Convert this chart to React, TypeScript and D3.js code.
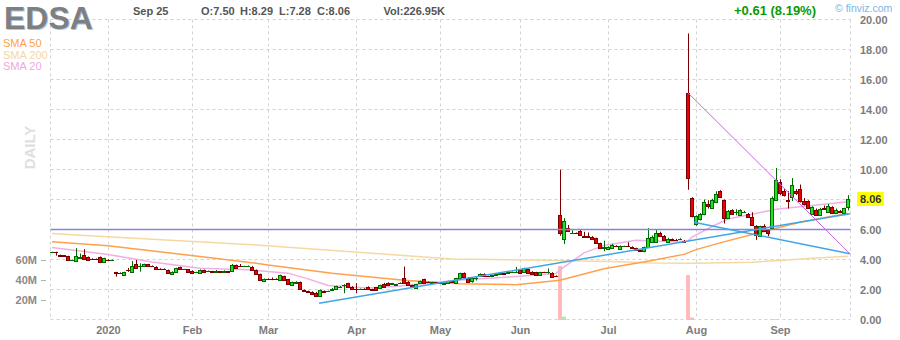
import React from 'react';
import * as d3 from 'd3';

// ---------- data ----------
const ticker = 'EDSA';
const headerDate = 'Sep 25';
const headerO = 'O:7.50';
const headerH = 'H:8.29';
const headerL = 'L:7.28';
const headerC = 'C:8.06';
const headerVol = 'Vol:226.95K';
const changeText = '+0.61 (8.19%)';
const lastPrice = 8.06;
const lastPriceText = '8.06';

const monthLabels = ['2020', 'Feb', 'Mar', 'Apr', 'May', 'Jun', 'Jul', 'Aug', 'Sep'];
const monthStartIdx = [14, 35, 54, 76, 97, 117, 139, 161, 182];
const priceTicks = [0, 2, 4, 6, 8, 10, 12, 14, 16, 18, 20];
const volumeTicks = [20, 40, 60];
const volumeTickLabels = ['20M', '40M', '60M'];

// daily candles Dec 11 2019 .. Sep 25 2020 : [open, high, low, close]
const candlesDec: number[][] = [
  [4.48, 4.52, 4.45, 4.50], [4.50, 4.52, 4.26, 4.49], [4.30, 4.32, 4.22, 4.26], [4.27, 4.30, 4.22, 4.25],
  [4.22, 4.25, 3.93, 3.95], [3.96, 4.00, 3.92, 3.97], [3.88, 4.76, 3.84, 4.22], [4.12, 4.40, 4.10, 4.15],
  [4.31, 4.69, 4.02, 4.04], [4.17, 4.20, 3.90, 3.97], [4.05, 4.08, 4.00, 4.04], [4.05, 4.07, 4.00, 4.03],
  [4.15, 4.20, 3.84, 3.86], [3.86, 4.12, 3.84, 4.11],
];
const candlesJan: number[][] = [
  [4.00, 4.02, 3.95, 3.98], [3.95, 4.00, 3.90, 3.97], [3.15, 3.18, 2.86, 3.13], [3.10, 3.14, 3.05, 3.09],
  [2.98, 3.18, 2.95, 3.15], [3.32, 3.44, 3.17, 3.28], [3.19, 3.90, 3.15, 3.57], [3.71, 3.97, 3.40, 3.42],
  [3.58, 3.75, 3.19, 3.60], [3.57, 3.72, 3.55, 3.69], [3.69, 3.71, 3.55, 3.57], [3.57, 3.60, 3.52, 3.55],
  [3.53, 3.55, 3.35, 3.37], [3.40, 3.42, 3.36, 3.39], [3.39, 3.41, 3.35, 3.38], [3.31, 3.33, 3.10, 3.13],
  [3.04, 3.21, 3.02, 3.19], [3.15, 3.45, 3.13, 3.44], [3.49, 3.52, 3.33, 3.35], [3.35, 3.38, 3.32, 3.35],
  [3.35, 3.36, 3.13, 3.15],
];
const candlesFeb: number[][] = [
  [3.26, 3.28, 3.07, 3.09], [3.14, 3.18, 3.10, 3.15], [3.09, 3.34, 3.07, 3.31], [3.31, 3.33, 3.13, 3.15],
  [3.24, 3.27, 3.20, 3.24], [3.21, 3.24, 3.17, 3.20], [3.20, 3.30, 3.18, 3.21], [3.21, 3.23, 3.17, 3.20],
  [3.19, 3.28, 3.17, 3.21], [3.21, 3.23, 3.18, 3.20], [3.24, 3.70, 3.22, 3.64], [3.64, 3.66, 3.40, 3.42],
  [3.58, 3.70, 3.50, 3.55], [3.54, 3.58, 3.50, 3.56], [3.55, 3.60, 3.52, 3.56], [3.53, 3.56, 3.29, 3.31],
  [3.31, 3.33, 3.02, 3.04], [3.04, 3.06, 2.62, 2.64], [2.55, 2.73, 2.50, 2.71],
];
const candlesMar: number[][] = [
  [2.70, 2.74, 2.65, 2.68], [2.71, 2.80, 2.62, 2.70], [2.72, 2.75, 2.66, 2.69], [2.64, 2.99, 2.62, 2.97],
  [2.90, 2.92, 2.62, 2.64], [2.69, 2.71, 2.33, 2.35], [2.30, 2.52, 2.28, 2.48], [2.45, 2.55, 2.40, 2.47],
  [2.50, 2.53, 2.00, 2.02], [1.97, 2.00, 1.85, 1.90], [1.90, 1.92, 1.82, 1.86], [1.86, 1.88, 1.66, 1.68],
  [1.80, 1.84, 1.58, 1.60], [1.60, 2.00, 1.57, 1.95], [1.92, 1.94, 1.80, 1.86], [1.88, 1.92, 1.85, 1.90],
  [1.95, 2.10, 1.93, 2.05], [2.05, 2.25, 2.03, 2.22], [2.18, 2.24, 2.12, 2.20], [2.28, 2.36, 1.75, 2.30],
  [2.42, 2.45, 2.17, 2.19], [2.20, 2.22, 2.03, 2.05],
];
const candlesApr: number[][] = [
  [2.05, 2.42, 1.75, 2.02], [2.04, 2.07, 2.00, 2.05], [2.05, 2.08, 2.02, 2.04], [2.19, 2.21, 2.00, 2.02],
  [2.02, 2.05, 1.98, 2.00], [2.15, 2.17, 1.95, 1.97], [2.08, 2.32, 2.06, 2.30], [2.40, 2.44, 2.17, 2.19],
  [2.46, 2.48, 2.28, 2.30], [2.40, 2.44, 2.37, 2.42], [2.30, 2.38, 2.28, 2.36], [2.42, 2.48, 2.38, 2.44],
  [2.75, 3.53, 2.44, 2.46], [2.53, 2.56, 2.29, 2.31], [2.28, 2.32, 2.18, 2.22], [2.08, 2.37, 2.06, 2.35],
  [2.42, 2.60, 2.40, 2.57], [2.69, 2.72, 2.44, 2.46], [2.50, 2.54, 2.44, 2.48], [2.46, 2.52, 2.42, 2.49],
  [2.47, 2.50, 2.40, 2.43],
];
const candlesMay: number[][] = [
  [2.45, 2.48, 2.38, 2.42], [2.40, 2.47, 2.37, 2.44], [2.42, 2.58, 2.40, 2.56], [2.56, 2.62, 2.48, 2.52],
  [2.42, 2.78, 2.40, 2.75], [2.75, 3.12, 2.72, 3.08], [3.10, 3.14, 2.84, 2.86], [2.80, 2.83, 2.45, 2.50],
  [2.55, 2.78, 2.45, 2.75], [2.74, 2.86, 2.60, 2.76], [2.88, 3.08, 2.86, 3.05], [3.05, 3.08, 2.88, 2.90],
  [2.90, 2.92, 2.86, 2.88], [2.92, 2.98, 2.88, 2.95], [2.98, 3.08, 2.96, 3.06], [3.04, 3.14, 3.02, 3.12],
  [3.08, 3.12, 3.02, 3.05], [3.12, 3.18, 3.10, 3.15], [3.15, 3.20, 3.12, 3.16], [3.18, 3.50, 3.12, 3.20],
];
const candlesJun: number[][] = [
  [3.31, 3.34, 3.07, 3.09], [3.20, 3.46, 3.18, 3.42], [3.35, 3.38, 3.10, 3.13], [3.20, 3.22, 3.03, 3.05],
  [3.15, 3.18, 2.96, 2.98], [3.00, 3.18, 2.98, 3.15], [3.15, 3.18, 3.12, 3.14], [3.16, 3.40, 3.05, 3.18],
  [3.13, 3.15, 2.80, 2.82], [2.90, 2.94, 2.84, 2.87], [6.98, 9.99, 5.58, 5.76], [5.36, 6.76, 5.03, 6.58],
  [6.09, 6.30, 5.85, 5.87], [5.74, 5.95, 5.70, 5.78], [5.78, 5.80, 5.72, 5.75], [5.87, 6.00, 5.60, 5.64],
  [5.55, 5.85, 5.45, 5.50], [5.55, 5.80, 5.50, 5.53], [5.53, 5.56, 5.36, 5.38], [5.42, 5.45, 5.11, 5.13],
  [5.09, 5.12, 4.78, 4.80], [4.80, 5.25, 4.55, 4.82],
];
const candlesJul: number[][] = [
  [4.70, 4.88, 4.65, 4.85], [4.75, 5.05, 4.70, 4.98], [4.92, 4.95, 4.86, 4.90], [4.68, 4.93, 4.65, 4.90],
  [4.88, 4.92, 4.84, 4.88], [4.92, 5.15, 4.85, 4.90], [4.85, 4.88, 4.78, 4.80], [4.75, 4.78, 4.60, 4.63],
  [4.65, 4.68, 4.52, 4.55], [4.55, 4.86, 4.48, 4.82], [4.86, 6.09, 4.80, 5.42], [5.20, 5.60, 5.10, 5.53],
  [5.20, 6.00, 5.15, 5.76], [5.80, 5.85, 5.55, 5.60], [5.60, 5.63, 5.28, 5.30], [5.20, 5.45, 5.15, 5.40],
  [5.35, 5.40, 5.25, 5.30], [5.32, 5.38, 5.26, 5.30], [5.34, 5.42, 5.30, 5.35], [5.25, 5.30, 5.15, 5.20],
  [15.11, 19.07, 8.65, 9.43], [8.10, 8.15, 6.80, 6.87],
];
const candlesAug: number[][] = [
  [6.38, 6.95, 6.25, 6.87], [6.69, 7.10, 6.60, 7.05], [7.03, 8.00, 6.95, 7.83], [7.70, 7.95, 7.40, 7.60],
  [7.43, 8.05, 7.40, 7.98], [7.80, 8.55, 7.75, 8.38], [8.58, 8.62, 8.10, 8.14], [7.98, 8.00, 6.40, 6.76],
  [6.76, 7.30, 6.70, 7.25], [7.30, 7.35, 7.00, 7.05], [7.15, 7.35, 6.95, 7.18], [6.95, 7.35, 6.90, 7.30],
  [7.18, 7.25, 7.15, 7.20], [7.05, 7.10, 6.82, 6.85], [6.82, 7.15, 6.28, 6.31], [6.25, 6.28, 5.31, 5.64],
  [5.60, 6.25, 5.55, 6.20], [6.25, 6.35, 5.85, 5.90], [5.98, 6.02, 5.55, 5.76], [6.09, 8.20, 6.00, 8.10],
  [7.98, 10.10, 7.90, 9.32],
];
const candlesSep: number[][] = [
  [9.20, 9.35, 8.30, 8.45], [8.54, 8.70, 8.20, 8.32], [8.00, 8.55, 7.40, 7.90], [8.20, 9.43, 7.90, 8.98],
  [8.60, 8.70, 8.30, 8.40], [8.70, 9.00, 7.80, 7.87], [7.90, 8.10, 7.60, 7.70], [7.87, 7.95, 7.40, 7.43],
  [7.05, 7.55, 7.00, 7.50], [7.30, 7.40, 6.90, 6.98], [7.00, 7.45, 6.95, 7.40], [7.45, 7.60, 7.30, 7.35],
  [7.20, 7.70, 7.15, 7.60], [7.50, 7.55, 7.05, 7.10], [7.10, 7.40, 7.05, 7.30], [7.22, 7.30, 7.15, 7.20],
  [7.10, 7.45, 6.95, 7.45], [7.50, 8.29, 7.28, 8.06],
];

// [day index, volume in millions] for visible volume bars
const volumes: [number, number][] = [[127, 54], [128, 3.3], [159, 45], [160, 2.5], [180, 1.0], [181, 0.8]];

// moving averages [day index, value]
const sma200: [number, number][] = [
  [0, 5.74], [6, 5.64], [51, 4.96], [100, 4.04], [125, 3.93], [140, 3.87], [150, 3.77],
  [161, 3.75], [175, 3.82], [183, 3.95], [190, 4.08], [199, 4.22],
];
const sma50: [number, number][] = [
  [0, 5.18], [14, 4.91], [37, 4.2], [51, 3.75], [54, 3.64], [70, 3.09], [88, 2.62], [102, 2.38],
  [116, 2.32], [127, 2.62], [138, 3.38], [150, 3.94], [158, 4.34], [161, 4.66], [167, 5.11],
  [176, 5.74], [181, 6.08], [187, 6.48], [199, 7.09],
];
const sma20: [number, number][] = [
  [0, 4.8], [14, 4.34], [25, 3.84], [37, 3.42], [49, 3.31], [59, 3.09], [64, 2.71], [69, 2.27],
  [79, 2.1], [87, 2.24], [102, 2.64], [116, 2.86], [126, 3.07], [127, 3.31], [133, 4.44],
  [138, 4.94], [146, 5.28], [155, 5.18], [159, 5.24], [160, 5.5], [165, 6.2], [169, 6.7],
  [178, 7.18], [181, 7.35], [199, 7.85],
];

// drawn trend lines [day index, price]
const horizontalLevel = 6.0;
const supportLine: [number, number][] = [[66.75, 1.08], [199.5, 7.05]];
const augustLine: [number, number][] = [[160.5, 6.48], [199.5, 4.38]];
const fallLine: [number, number][] = [[159, 15.11], [199.5, 4.38]];

const candles = [
  ...candlesDec, ...candlesJan, ...candlesFeb, ...candlesMar, ...candlesApr,
  ...candlesMay, ...candlesJun, ...candlesJul, ...candlesAug, ...candlesSep,
];

const FONT = '"Liberation Sans", Arial, Helvetica, sans-serif';

export default function App() {
  const W = 900, H = 340;
  const x = d3.scaleLinear().domain([0, candles.length - 1]).range([52, 848]);
  const y = d3.scaleLinear().domain([0, 20]).range([319.5, 19.5]);
  const yVol = d3.scaleLinear().domain([0, 60]).range([320, 260]);
  const left = 50.5, right = 850.5, top = y(20), bottom = y(0);

  const line = d3.line<[number, number]>().x((d) => x(d[0])).y((d) => y(d[1]));

  const gridColor = '#d2d2d2';
  const upFill = '#22e022', upStroke = '#006a00';
  const dnFill = '#f00000', dnStroke = '#7a0000';

  return (
    <svg width={W} height={H} style={{ position: 'fixed', left: 0, top: 0, background: '#fff' }}
      fontFamily={FONT}>
      <rect x={0} y={0} width={W} height={H} fill="#fff" />

      {/* grid */}
      {priceTicks.map((t) => (
        <line key={'h' + t} x1={left} x2={right} y1={y(t)} y2={y(t)} stroke={gridColor} strokeDasharray="3,3" />
      ))}
      {monthStartIdx.map((i) => (
        <line key={'v' + i} x1={x(i) + 0.5} x2={x(i) + 0.5} y1={top} y2={bottom} stroke={gridColor} strokeDasharray="3,3" />
      ))}
      <line x1={left} x2={left} y1={top} y2={bottom} stroke={gridColor} strokeDasharray="3,3" />
      <line x1={right} x2={right} y1={top} y2={bottom} stroke={gridColor} strokeDasharray="3,3" />

      {/* DAILY */}
      <text transform="translate(35,147.5) rotate(-90)" textAnchor="middle" fontSize={15} fontWeight="bold" fill="#e0e0e0">DAILY</text>

      {/* volume bars */}
      {volumes.map(([i, v]) => {
        const c = candles[i];
        const up = c[3] >= c[0];
        return (
          <rect key={'vol' + i} x={x(i) - 2} width={4} y={yVol(v)} height={yVol(0) - yVol(v)}
            fill={up ? '#b2e6b2' : '#ffbaba'} />
        );
      })}

      {/* moving averages */}
      <path d={line(sma200) || ''} fill="none" stroke="#f6d9a2" strokeWidth={1.5} />
      <path d={line(sma50) || ''} fill="none" stroke="#ffa04c" strokeWidth={1.5} />
      <path d={line(sma20) || ''} fill="none" stroke="#f2aee6" strokeWidth={1.5} />

      {/* candles */}
      {candles.map((c, i) => {
        const [o, h, l, cl] = c;
        const up = cl >= o;
        const cx = x(i);
        const stroke = up ? upStroke : dnStroke;
        const t = Math.round(y(Math.max(o, cl))) + 0.5;
        const b = Math.round(y(Math.min(o, cl))) + 0.5;
        return (
          <g key={'c' + i}>
            <line x1={cx + 0.5} x2={cx + 0.5} y1={y(h)} y2={y(l)} stroke={stroke} strokeWidth={1} />
            {b - t >= 1 ? (
              <rect x={cx - 1.5} y={t} width={3} height={b - t} fill={up ? upFill : dnFill} stroke={stroke} strokeWidth={1} />
            ) : (
              <line x1={cx - 2} x2={cx + 2} y1={t} y2={t} stroke={stroke} strokeWidth={1} />
            )}
          </g>
        );
      })}

      {/* trend lines */}
      <line x1={left} x2={right} y1={y(horizontalLevel)} y2={y(horizontalLevel)} stroke="#8585e0" strokeWidth={1.5} />
      <path d={line(supportLine) || ''} fill="none" stroke="#3fa6e6" strokeWidth={1.5} />
      <path d={line(augustLine) || ''} fill="none" stroke="#3fa6e6" strokeWidth={1.5} />
      <path d={line(fallLine) || ''} fill="none" stroke="#c865e0" strokeWidth={1} />

      {/* price axis labels */}
      {priceTicks.map((t) => (
        <text key={'pt' + t} x={860} y={y(t) + 4} fontSize={11} fontWeight="bold" fill="#7c7c7c">{t.toFixed(2)}</text>
      ))}
      <rect x={857} y={Math.round(y(lastPrice)) - 7} width={27} height={14} fill="#ffff00" />
      <text x={860} y={Math.round(y(lastPrice)) + 4} fontSize={11} fontWeight="bold" fill="#333">{lastPriceText}</text>

      {/* volume axis */}
      {volumeTicks.map((v, k) => (
        <g key={'vt' + v}>
          <text x={37} y={yVol(v) + 4} textAnchor="end" fontSize={11} fontWeight="bold" fill="#8a8a8a">{volumeTickLabels[k]}</text>
          <line x1={41} x2={46} y1={yVol(v) + 0.5} y2={yVol(v) + 0.5} stroke="#b0b0b0" />
        </g>
      ))}

      {/* month labels */}
      {monthStartIdx.map((i, k) => (
        <text key={'m' + i} x={x(i) + 0.5} y={334} textAnchor="middle" fontSize={11} fontWeight="bold" fill="#7c7c7c">{monthLabels[k]}</text>
      ))}

      {/* header */}
      <text x={5} y={30} fontSize={32} fontWeight="bold" fill="#a9c9ec">{ticker}</text>
      <text x={4} y={29} fontSize={32} fontWeight="bold" fill="#7f7f7f">{ticker}</text>
      <text x={133} y={15} fontSize={11} fontWeight="bold" fill="#555">{headerDate}</text>
      <text x={201} y={15} fontSize={11} fontWeight="bold" fill="#555">{headerO}</text>
      <text x={240} y={15} fontSize={11} fontWeight="bold" fill="#555">{headerH}</text>
      <text x={279} y={15} fontSize={11} fontWeight="bold" fill="#555">{headerL}</text>
      <text x={317} y={15} fontSize={11} fontWeight="bold" fill="#555">{headerC}</text>
      <text x={445} y={15} textAnchor="end" fontSize={11} fontWeight="bold" fill="#555">{headerVol}</text>
      <text x={816} y={15} textAnchor="end" fontSize={13} fontWeight="bold" fill="#0a9a0a">{changeText}</text>
      <text x={835} y={12} fontSize={10.5} fill="#7db5e4">© finviz.com</text>

      <text x={3} y={47} fontSize={11} fill="#ffa04c">SMA 50</text>
      <text x={3} y={58.5} fontSize={11} fill="#f4d7a4">SMA 200</text>
      <text x={3} y={70} fontSize={11} fill="#f0a6e2">SMA 20</text>
    </svg>
  );
}
